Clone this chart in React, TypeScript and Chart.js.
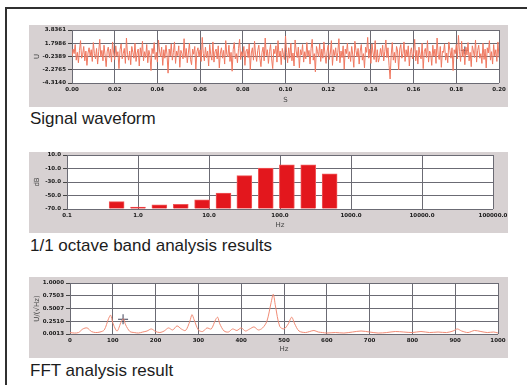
import React, { useEffect, useRef } from "react";
import { Chart, registerables } from "chart.js";
Chart.register(...registerables);

// ---------- Signal waveform ----------
const SIGNAL_T_STEP = 0.0005;
const SIGNAL_VALUES = [
  -0.3, 0.9, 0.2, 1.6, -0.8, 0.4, -1.2, 0.7, 2.2, -0.5, 0.1, 1.3, -0.9, 0.6, -1.6, 0.3, 1.1, -0.2, 0.8, -1.0,
  1.9, 0.2, -0.6, 1.0, -1.4, 0.5, 2.4, -0.3, 0.7, -0.9, 1.5, 0.0, -1.8, 0.6, 1.2, -0.4, 0.9, -1.1, 2.0, 0.3,
  -0.7, 1.4, -0.2, 0.5, -2.1, 0.8, 1.7, -0.6, 0.2, 1.0, -1.3, 2.6, 0.1, -0.8, 0.6, -1.5, 1.3, 0.4, -0.5, 1.8,
  -1.0, 0.3, 0.9, -1.7, 1.1, -0.2, 2.1, -0.9, 0.5, -0.4, 1.6, -1.2, 0.7, 0.0, -2.4, 1.0, 0.2, 1.9, -0.7, 0.4,
  -1.1, 2.3, 0.6, -0.3, 1.2, -1.6, 0.8, -0.5, 1.5, 0.1, -2.8, 0.9, -0.2, 1.7, -0.8, 0.4, 2.0, -1.3, 0.6, -0.1,
  1.4, -1.9, 0.7, 0.2, -0.6, 2.5, -0.4, 1.0, -1.2, 0.3, 1.8, -0.7, -1.5, 0.9, 0.1, 1.3, -2.2, 0.5, 1.1, -0.3,
  0.8, -1.0, 2.7, 0.2, -0.9, 1.2, -0.4, 0.6, -1.7, 1.6, 0.0, -0.8, 2.0, -1.1, 0.5, 0.9, -0.6, 1.4, -2.0, 0.3,
  1.1, -0.5, 0.7, -1.4, 2.2, 0.1, -0.3, 1.5, -1.0, 0.4, -2.5, 0.8, 1.9, -0.6, 0.2, -1.2, 1.0, 2.4, -0.7, 0.5,
  -0.2, 1.3, -1.6, 0.6, 0.9, -0.4, 1.7, -2.3, 0.3, 1.1, -0.8, 2.1, 0.0, -1.0, 0.7, 1.5, -0.5, -1.8, 0.4, 1.2,
  -0.9, 2.6, -0.1, 0.8, -1.3, 0.5, 1.6, -0.6, -2.1, 0.9, 0.2, 1.4, -1.1, 2.2, -0.3, 0.6, -1.5, 1.0, 0.1, -0.7,
  2.9, 0.4, -1.2, 1.1, -0.5, 1.8, -0.9, 0.3, -1.7, 2.3, 0.6, -0.4, 1.2, -2.0, 0.8, 0.0, 1.6, -1.1, 0.5, -0.6,
  1.9, -0.2, 0.7, -1.4, 1.0, 2.4, -0.8, 0.2, -2.6, 1.3, 0.5, -0.3, 1.7, -1.0, 0.9, -0.5, 2.0, 0.1, -1.3, 0.6,
  1.5, -0.7, 0.3, 2.2, -1.6, 0.8, -0.1, 1.1, -0.9, 0.4, 2.5, -1.2, 0.6, -0.4, 1.4, -2.2, 0.9, 0.2, 1.8, -0.6,
  0.5, -1.0, 1.3, 0.0, -1.9, 2.1, 0.7, -0.3, 1.0, -1.4, 0.6, 1.6, -0.8, 0.2, -2.0, 1.2, 0.4, 2.7, -0.5, 0.9,
  -1.3, 1.7, 0.3, -0.7, 2.2, -1.1, 0.8, -1.1, -0.4, 1.0, -0.2, 1.5, -0.9, 0.5, 2.3, -0.4, 1.1, -1.6, -3.7, 0.0,
  1.9, -0.8, 0.4, -1.2, 1.3, 0.6, -2.3, 0.9, 1.6, -0.5, 0.2, 2.0, -1.0, 0.8, -0.3, 1.4, -1.7, 0.5, 1.1, -0.6,
  0.3, 2.4, -0.9, 0.7, -1.4, 1.2, 0.0, -0.6, 1.8, -2.1, 0.5, 1.0, -0.4, 2.2, -1.1, 0.6, 0.2, -1.6, 1.5, -0.2,
  0.9, -1.3, 2.6, 0.1, -0.7, 1.3, -1.9, 0.6, 0.4, 1.7, -0.8, 0.3, -1.2, 2.0, 0.7, -0.5, 1.1, -2.4, 0.8, 0.2,
  1.6, -0.6, 3.0, 0.5, -1.0, 2.1, -0.3, 0.9, -1.5, 1.2, 0.0, 1.9, -0.9, 0.4, -1.8, 1.4, 0.6, -0.4, 2.3, -1.1,
  0.7, 1.5, -0.5, 0.2, -1.3, 1.8, -0.7, 0.9, -2.0, 1.1, 0.3, 2.2, -0.8, 0.5, -1.4, 1.6, -0.2, 0.8, -1.0, 2.0,
  -0.4,
];
const SIGNAL_X_TICKS = [0, 0.02, 0.04, 0.06, 0.08, 0.1, 0.12, 0.14, 0.16, 0.18, 0.2];
const SIGNAL_X_LABELS = ["0.00", "0.02", "0.04", "0.06", "0.08", "0.10", "0.12", "0.14", "0.16", "0.18", "0.20"];
const SIGNAL_Y_TICKS = [-4.314, -2.2765, -0.2389, 1.7986, 3.8361];
const SIGNAL_Y_LABELS = ["-4.3140", "-2.2765", "-0.2389", "1.7986", "3.8361"];
const SIGNAL_CURSOR_X = [0.184];
const SIGNAL_CURSOR_Y = [0.7];

// ---------- 1/1 octave band ----------
const OCTAVE_BANDS = [0.5, 1, 2, 4, 8, 16, 31.5, 63, 125, 250, 500];
const OCTAVE_LEVELS = [-59, -67, -64, -63, -56.5, -46.5, -20.5, -9.5, -4.5, -4.5, -18];
const OCTAVE_X_TICKS = [0.1, 1, 10, 100, 1000, 10000, 100000];
const OCTAVE_X_LABELS = ["0.1", "1.0", "10.0", "100.0", "1000.0", "10000.0", "100000.0"];
const OCTAVE_Y_TICKS = [-70, -50, -30, -10, 10];
const OCTAVE_Y_LABELS = ["-70.0", "-50.0", "-30.0", "-10.0", "10.0"];

// ---------- FFT ----------
const FFT_FREQS = [
  0, 10, 20, 30, 40, 50, 60, 70, 80, 90, 95, 100, 110, 120, 125, 130, 140, 150, 160, 170, 180, 190, 200,
  210, 220, 230, 240, 250, 260, 270, 280, 285, 290, 300, 310, 320, 330, 340, 345, 350, 360, 370, 380, 390,
  400, 410, 420, 430, 440, 450, 460, 470, 475, 480, 490, 500, 510, 518, 525, 535, 550, 560, 570, 580, 590,
  600, 620, 640, 660, 680, 700, 720, 740, 760, 780, 800, 820, 840, 860, 880, 895, 905, 915, 930, 945, 960,
  975, 990, 1000,
];
const FFT_VALUES = [
  0.03, 0.02, 0.03, 0.1, 0.12, 0.05, 0.03, 0.04, 0.08, 0.3, 0.37, 0.22, 0.06, 0.25, 0.3, 0.18, 0.05, 0.03, 0.02, 0.04, 0.06, 0.1, 0.05,
  0.03, 0.06, 0.12, 0.08, 0.16, 0.1, 0.07, 0.25, 0.38, 0.28, 0.08, 0.05, 0.12, 0.1, 0.28, 0.33, 0.2, 0.06, 0.04, 0.1, 0.07,
  0.12, 0.06, 0.1, 0.14, 0.08, 0.12, 0.25, 0.62, 0.78, 0.55, 0.15, 0.1, 0.2, 0.33, 0.2, 0.06, 0.03, 0.05, 0.07, 0.04, 0.03,
  0.02, 0.03, 0.02, 0.04, 0.06, 0.04, 0.02, 0.03, 0.05, 0.04, 0.03, 0.05, 0.03, 0.04, 0.03, 0.06, 0.1, 0.06, 0.03, 0.07, 0.05,
  0.03, 0.04, 0.02,
];
const FFT_X_TICKS = [0, 100, 200, 300, 400, 500, 600, 700, 800, 900, 1000];
const FFT_X_LABELS = ["0", "100", "200", "300", "400", "500", "600", "700", "800", "900", "1000"];
const FFT_Y_TICKS = [0.0013, 0.251, 0.5007, 0.7503, 1.0];
const FFT_Y_LABELS = ["0.0013", "0.2510", "0.5007", "0.7503", "1.0000"];
const FFT_CURSOR_X = [124];
const FFT_CURSOR_Y = [0.29];

// ---------- styling ----------
const PANEL_GRAY = "#d7d1d2";
const GRID = "#6b6b74";
const TICK_FONT = { family: "DejaVu Sans", size: 5.5, weight: "bold" as const };
const TITLE_FONT = { family: "DejaVu Sans", size: 7 };

const bgPlugin = {
  id: "panelBg",
  beforeDraw(chart: any) {
    const { ctx, chartArea: a, width, height } = chart;
    ctx.save();
    ctx.fillStyle = PANEL_GRAY;
    ctx.fillRect(0, 0, width, height);
    ctx.fillStyle = "#ffffff";
    ctx.fillRect(a.left, a.top, a.right - a.left, a.bottom - a.top);
    ctx.restore();
  },
};

function yAxis(min: number, max: number, vals: number[], labels: string[], title: string, width: number) {
  return {
    type: "linear",
    min,
    max,
    afterBuildTicks: (s: any) => {
      s.ticks = vals.map((v) => ({ value: v }));
    },
    afterFit: (s: any) => {
      s.width = width;
      s.paddingTop = 0;
      s.paddingBottom = 0;
    },
    ticks: {
      autoSkip: false,
      callback: (_v: any, i: number) => labels[i],
      font: TICK_FONT,
      color: "#1a1a1a",
      padding: 2,
    },
    grid: { color: GRID, lineWidth: 1, tickLength: 4, tickColor: "#444", drawTicks: true },
    border: { display: false },
    title: { display: true, text: title, font: TITLE_FONT, color: "#444", padding: { top: 4, bottom: 0 } },
  };
}

function xAxis(type: string, min: number, max: number, vals: number[], labels: string[], title: string, titlePad: number) {
  return {
    type,
    min,
    max,
    offset: false,
    afterBuildTicks: (s: any) => {
      s.ticks = vals.map((v) => ({ value: v }));
    },
    afterFit: (s: any) => {
      s.height = 24;
      s.paddingLeft = 0;
      s.paddingRight = 0;
    },
    ticks: {
      autoSkip: false,
      maxRotation: 0,
      minRotation: 0,
      callback: (_v: any, i: number) => labels[i],
      font: TICK_FONT,
      color: "#1a1a1a",
      padding: 3,
    },
    grid: { color: GRID, lineWidth: 1, drawTicks: false, offset: false },
    border: { display: false },
    title: { display: true, text: title, font: TITLE_FONT, color: "#444", padding: { top: 0, bottom: titlePad } },
  };
}

function baseOptions(padding: any) {
  return {
    responsive: false,
    animation: false,
    devicePixelRatio: 1,
    layout: { padding },
    plugins: { legend: { display: false }, tooltip: { enabled: false } },
  };
}

function signalConfig(): any {
  return {
    type: "line",
    data: {
      datasets: [
        {
          data: SIGNAL_VALUES.map((v, i) => ({ x: i * SIGNAL_T_STEP, y: v })),
          borderColor: "#f07860",
          borderWidth: 1,
          pointRadius: 0,
          tension: 0,
        },
        {
          data: SIGNAL_CURSOR_X.map((x, i) => ({ x, y: SIGNAL_CURSOR_Y[i] })),
          showLine: false,
          pointStyle: "cross",
          pointRadius: 4,
          borderColor: "#3c4058",
          borderWidth: 1,
        },
      ],
    },
    options: {
      ...baseOptions({ left: 0, top: 3, right: 9, bottom: 0 }),
      scales: {
        x: xAxis("linear", 0, 0.2, SIGNAL_X_TICKS, SIGNAL_X_LABELS, "S", 3),
        y: yAxis(-4.314, 3.8361, SIGNAL_Y_TICKS, SIGNAL_Y_LABELS, "U", 43),
      },
    },
    plugins: [bgPlugin],
  };
}

function octaveConfig(): any {
  return {
    type: "bar",
    data: {
      datasets: [
        {
          data: OCTAVE_BANDS.map((f, i) => ({ x: f, y: OCTAVE_LEVELS[i] })),
          base: -70,
          backgroundColor: "#e3171d",
          borderColor: "#f0585a",
          borderWidth: 1,
          barThickness: 15,
        },
      ],
    },
    options: {
      ...baseOptions({ left: 0, top: 3, right: 15, bottom: 0 }),
      scales: {
        x: xAxis("logarithmic", 0.1, 100000, OCTAVE_X_TICKS, OCTAVE_X_LABELS, "Hz", 4),
        y: { ...yAxis(-70, 10, OCTAVE_Y_TICKS, OCTAVE_Y_LABELS, "dB", 38), beginAtZero: false },
      },
    },
    plugins: [bgPlugin],
  };
}

function fftConfig(): any {
  return {
    type: "line",
    data: {
      datasets: [
        {
          data: FFT_FREQS.map((f, i) => ({ x: f, y: FFT_VALUES[i] })),
          borderColor: "#f18c76",
          borderWidth: 1,
          pointRadius: 0,
          tension: 0.3,
        },
        {
          data: FFT_CURSOR_X.map((x, i) => ({ x, y: FFT_CURSOR_Y[i] })),
          showLine: false,
          pointStyle: "cross",
          pointRadius: 5,
          borderColor: "#3c4058",
          borderWidth: 1,
        },
      ],
    },
    options: {
      ...baseOptions({ left: 0, top: 4, right: 10, bottom: 0 }),
      scales: {
        x: xAxis("linear", 0, 1000, FFT_X_TICKS, FFT_X_LABELS, "Hz", 5),
        y: yAxis(0.0013, 1.0, FFT_Y_TICKS, FFT_Y_LABELS, "U/(\u221AHz)", 41),
      },
    },
    plugins: [bgPlugin],
  };
}

function Panel({ left, top, width, height, make }: any) {
  const ref = useRef<HTMLCanvasElement | null>(null);
  useEffect(() => {
    if (!ref.current) return;
    const chart = new Chart(ref.current, make());
    return () => chart.destroy();
  }, []);
  return (
    <canvas
      ref={ref}
      width={width}
      height={height}
      style={{ position: "absolute", left, top, width, height, display: "block" }}
    />
  );
}

const captionStyle = (top: number): React.CSSProperties => ({
  position: "absolute",
  left: 30,
  top,
  fontFamily: "'Liberation Sans', Arial, sans-serif",
  fontSize: 17,
  lineHeight: "19px",
  color: "#1c1c1c",
  whiteSpace: "nowrap",
});

export default function App() {
  return (
    <div
      style={{
        position: "absolute",
        left: 0,
        top: 0,
        width: 527,
        height: 385,
        overflow: "hidden",
        background: "#ffffff",
      }}
    >
      <div
        style={{
          position: "absolute",
          left: 5,
          top: 7,
          width: 560,
          height: 420,
          borderTop: "2px solid #303030",
          borderLeft: "2px solid #303030",
          boxSizing: "border-box",
        }}
      />
      <Panel left={29} top={25} width={479} height={82} make={signalConfig} />
      <div style={captionStyle(109)}>Signal waveform</div>
      <Panel left={29} top={152} width={479} height={81} make={octaveConfig} />
      <div style={captionStyle(236)}>1/1 octave band analysis results</div>
      <Panel left={29} top={277} width={479} height={81} make={fftConfig} />
      <div style={captionStyle(361)}>FFT analysis result</div>
    </div>
  );
}
